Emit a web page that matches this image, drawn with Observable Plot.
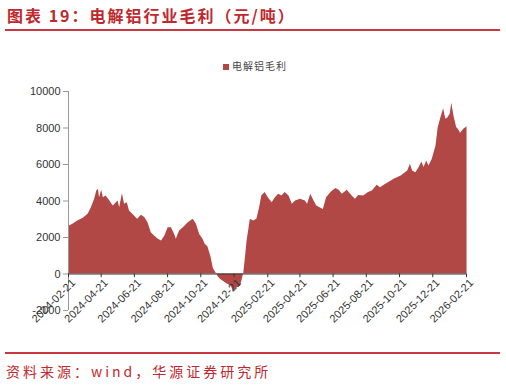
<!DOCTYPE html>
<html><head><meta charset="utf-8">
<script src="https://cdn.jsdelivr.net/npm/d3@7"></script>
<script src="https://cdn.jsdelivr.net/npm/@observablehq/plot@0.6"></script>
<style>
html,body{margin:0;padding:0;background:#fff;width:506px;height:386px;overflow:hidden;position:relative;}
#title{position:absolute;left:7px;top:4px;font-family:"Noto Sans CJK SC";font-weight:700;font-size:16px;letter-spacing:2px;color:#C0282D;white-space:nowrap;line-height:22px;}
#line1{position:absolute;left:5px;top:29px;width:495px;height:2px;background:#C8383D;}
#legend{position:absolute;left:223px;top:59px;font-family:"Noto Sans CJK SC";font-size:10px;letter-spacing:1px;color:#444;white-space:nowrap;line-height:14px;}
#legend span{display:inline-block;width:6px;height:6px;background:#B24846;margin-right:3px;vertical-align:0px;}
#chart{position:absolute;left:0;top:80px;}
#line2{position:absolute;left:5px;top:352px;width:495px;height:2px;background:#C8383D;}
#source{position:absolute;left:6px;top:362px;font-family:"Noto Sans CJK SC";font-size:14px;letter-spacing:3px;color:#C0282D;white-space:nowrap;line-height:18px;}
</style></head>
<body>
<div id="title">图表 19：电解铝行业毛利（元/吨）</div>
<div id="line1"></div>
<div id="legend"><span></span>电解铝毛利</div>
<div id="chart"></div>
<div id="line2"></div>
<div id="source">资料来源：wind，华源证券研究所</div>
<script>
const seriesName = "电解铝毛利";
const dates = [
"2024-02-21","2024-02-23","2024-02-29","2024-03-09","2024-03-19","2024-03-28","2024-04-03","2024-04-09","2024-04-13","2024-04-16",
"2024-04-18","2024-04-22","2024-04-25","2024-04-30","2024-05-07","2024-05-13","2024-05-19","2024-05-22","2024-05-25","2024-05-30",
"2024-06-03","2024-06-08","2024-06-12","2024-06-18","2024-06-27","2024-07-04","2024-07-10","2024-07-16","2024-07-22","2024-07-28",
"2024-08-04","2024-08-10","2024-08-16","2024-08-22","2024-08-28","2024-09-03","2024-09-06","2024-09-12","2024-09-19","2024-09-28",
"2024-10-07","2024-10-13","2024-10-19","2024-10-25","2024-10-29","2024-11-03","2024-11-09","2024-11-13","2024-11-18","2024-11-22",
"2024-11-26","2024-12-05","2024-12-15","2024-12-21","2024-12-27","2025-01-02","2025-01-06","2025-01-08","2025-01-11","2025-01-14",
"2025-01-20","2025-01-26","2025-02-01","2025-02-06","2025-02-10","2025-02-16","2025-02-22","2025-03-01","2025-03-07","2025-03-13",
"2025-03-19","2025-03-25","2025-04-01","2025-04-07","2025-04-13","2025-04-22","2025-05-01","2025-05-05","2025-05-11","2025-05-17",
"2025-05-22","2025-05-28","2025-06-03","2025-06-09","2025-06-17","2025-06-26","2025-07-02","2025-07-08","2025-07-17","2025-07-26",
"2025-08-01","2025-08-07","2025-08-16","2025-08-25","2025-09-01","2025-09-10","2025-09-16","2025-09-25","2025-09-29","2025-10-11",
"2025-10-24","2025-11-05","2025-11-10","2025-11-14","2025-11-20","2025-11-26","2025-12-01","2025-12-05","2025-12-10","2025-12-14",
"2025-12-20","2025-12-27","2025-12-31","2026-01-05","2026-01-10","2026-01-14","2026-01-18","2026-01-22","2026-01-25","2026-01-29",
"2026-02-03","2026-02-06","2026-02-10","2026-02-16","2026-02-22"
];
const values = [
2650,2630,2720,2900,3050,3270,3630,4090,4550,4640,
4180,4590,4180,4270,4000,3730,3910,4000,3630,4400,
3820,3910,3450,3270,3000,3220,3090,2810,2260,2080,
1900,1810,2080,2540,2540,2170,1900,2360,2540,2810,
3000,2720,2170,1900,1630,1500,900,300,50,-150,
-290,-480,-660,-930,-750,-660,-200,70,890,1810,
3000,2900,3000,3630,4270,4460,4180,3910,4180,4370,
4270,4460,4270,3820,4000,4090,4000,3820,4370,4000,
3730,3630,3540,4180,4460,4680,4590,4370,4590,4270,
4090,4300,4270,4460,4550,4860,4730,4910,4970,5190,
5370,5640,6010,5640,5550,5830,6140,5830,6190,5920,
6280,7010,8020,8560,9060,8480,8560,8750,9350,8650,
8020,7930,7710,7930,8070
];
const xTickLabels = ["2024-02-21","2024-04-21","2024-06-21","2024-08-21","2024-10-21","2024-12-21","2025-02-21","2025-04-21","2025-06-21","2025-08-21","2025-10-21","2025-12-21","2026-02-21"];
const yTicks = [-2000,0,2000,4000,6000,8000,10000];

const parse = d3.utcParse("%Y-%m-%d");
const data = dates.map((d,i)=>({date: parse(d), value: values[i]}));
const xTicks = xTickLabels.map(parse);
const fmt = d3.utcFormat("%Y-%m-%d");

const chart = Plot.plot({
  width: 506, height: 270,
  marginLeft: 68, marginRight: 40, marginTop: 11, marginBottom: 40,
  style: {fontFamily: "'Liberation Sans', Arial, sans-serif", fontSize: "11px", color: "#333", background: "transparent", overflow: "visible"},
  x: {type: "utc", domain: [xTicks[0], xTicks[xTicks.length-1]], axis: null},
  y: {domain: [-2000, 10000], axis: null},
  marks: [
    Plot.areaY(data, {x: "date", y: "value", fill: "#B24846", curve: "linear"}),
    Plot.ruleX([xTicks[0]], {y1: -2000, y2: 10000, stroke: "#999", strokeWidth: 1}),
    Plot.axisY({ticks: yTicks, tickFormat: d => String(d), tickSize: 5, tickPadding: 3, label: null, stroke: "#999", fill: "#333", fontSize: 11}),
    Plot.ruleY([0], {stroke: "#333", strokeWidth: 1}),
    Plot.ruleX(xTicks, {y1: 0, y2: -200, stroke: "#333"}),
    Plot.text(xTicks, {x: d=>d, y: 0, text: d=>fmt(d), rotate: -45, textAnchor: "end", dx: 5, dy: 7, fill: "#333", fontSize: 11})
  ]
});
document.getElementById("chart").appendChild(chart);
</script>
</body></html>
